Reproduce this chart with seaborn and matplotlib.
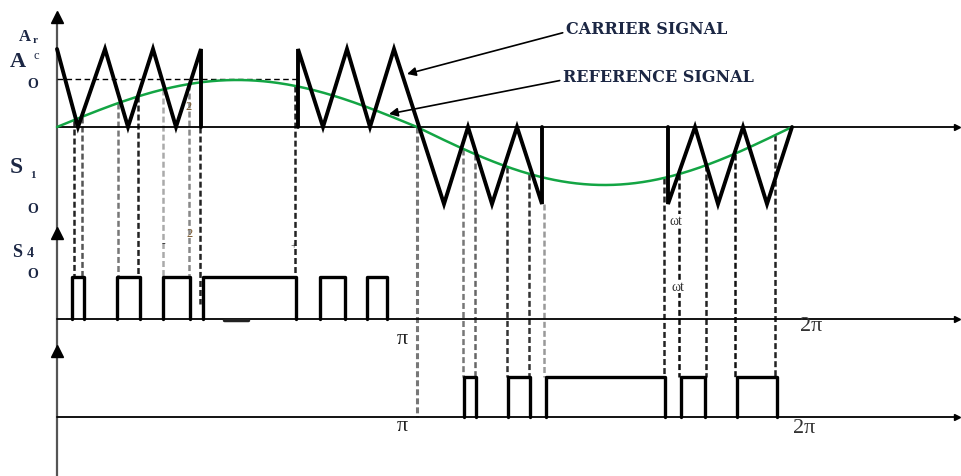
import numpy as np
import pandas as pd
import matplotlib
matplotlib.use("Agg")
import matplotlib.pyplot as plt
import seaborn as sns

# ---------------- data (diagram units: horizontal = time axis, vertical = level) ----------------
t_start, t_pi, t_end = 57, 417, 792          # start, zero crossing (pi), end (2pi) of reference
ref_amp_pos, ref_amp_neg = 47, 58             # reference amplitude in positive / negative half
level_zero = 128                              # top panel time axis
level_ac = 50                                 # carrier peak (Ac)
level_neg = 205                               # carrier negative peak
level_ref_peak = 80                           # dashed "0" reference line
s4_axis, s4_high = 320, 278
s1_axis, s1_high = 418, 378

carrier1_t = [57, 78, 105, 128, 153, 176, 201, 201]
carrier1_v = [50, 128, 50, 128, 50, 128, 50, 128]
carrier2_t = [298, 298, 323, 347, 370, 394, 444, 468, 492, 517, 542, 542]
carrier2_v = [128, 50, 128, 50, 128, 50, 205, 128, 205, 128, 205, 128]
carrier3_t = [668, 668, 695, 718, 743, 767, 792]
carrier3_v = [128, 205, 128, 205, 128, 205, 128]

pulses_s4 = [(72, 84), (117, 140), (163, 190), (203, 296), (320, 345), (367, 387)]
pulses_s1 = [(464, 476), (508, 530), (546, 665), (681, 705), (737, 777)]

dash_first_t = [74, 82, 118, 138, 163, 189, 200, 295]
dash_first_c = ['#222222', '#555555', '#777777', '#222222', '#aaaaaa', '#888888', '#222222', '#222222']
dash_second_t = [463, 475, 507, 529, 544, 664, 679, 706, 735, 775]
dash_second_c = ['#777777', '#666666', '#333333', '#333333', '#999999',
                 '#222222', '#111111', '#222222', '#111111', '#222222']

# ---------------- figure ----------------
sns.set_theme(style="white")
plt.rcParams['font.family'] = ['Liberation Serif', 'DejaVu Serif']
plt.rcParams['lines.scale_dashes'] = False

fig = plt.figure(figsize=(9.61, 4.77), dpi=100)
ax = fig.add_axes([0, 0, 1, 1])

txt_col = '#1c2744'
dash = (4.3, 2.2)


def ref(t):
    t = np.asarray(t, dtype=float)
    pos = level_zero - ref_amp_pos * np.sin(np.pi * (t - t_start) / (t_pi - t_start))
    neg = level_zero + ref_amp_neg * np.sin(np.pi * (t - t_pi) / (t_end - t_pi))
    return np.where(t < t_pi, pos, neg)


# reference sine (seaborn)
t_ref = np.linspace(t_start, t_end, 400)
df_ref = pd.DataFrame({'t': t_ref, 'v': ref(t_ref)})
sns.lineplot(data=df_ref, x='t', y='v', ax=ax, color='#13a544', lw=1.8, zorder=3,
             sort=False, estimator=None)
ax.set_xlim(0, 961)
ax.set_ylim(477, 0)
ax.axis('off')

# axes
ax.plot([57, 57], [16, 477], color='#555555', lw=1.6, zorder=2)
for yy in (18, 234, 352):
    ax.plot([57], [yy], marker='^', color='black', markersize=9, zorder=5)
for yy in (level_zero, s4_axis, s1_axis):
    ax.plot([57, 955], [yy, yy], color='black', lw=1.3, zorder=2)
    ax.plot([957], [yy], marker='>', color='black', markersize=5, zorder=5)

# dashed reference peak line
ax.plot([57, 300], [level_ref_peak, level_ref_peak], color='black', lw=1.0, dashes=(4, 2.5), zorder=2)

# dashed projection lines
for t, c in zip(dash_first_t, dash_first_c):
    y0 = float(ref(t)) if t != 200 else level_zero
    y1 = s4_high if t != 200 else 305
    ax.plot([t, t], [y0, y1], color=c, lw=1.8, dashes=dash, zorder=1)
ax.plot([t_pi, t_pi], [level_zero, s1_axis], color='#777777', lw=2.2, dashes=dash, zorder=1)
for t, c in zip(dash_second_t, dash_second_c):
    y0 = float(ref(t)) if t != 544 else level_neg
    ax.plot([t, t], [y0, s1_high], color=c, lw=1.8, dashes=dash, zorder=1)

# carrier
for tt, vv in ((carrier1_t, carrier1_v), (carrier2_t, carrier2_v), (carrier3_t, carrier3_v)):
    ax.plot(tt, vv, color='black', lw=2.8, solid_joinstyle='miter', zorder=4)

# pulses
for a, b in pulses_s4:
    ax.plot([a, a, b, b], [s4_axis, s4_high, s4_high, s4_axis], color='black', lw=2.4, zorder=4)
for a, b in pulses_s1:
    ax.plot([a, a, b, b], [s1_axis, s1_high, s1_high, s1_axis], color='black', lw=2.4, zorder=4)
ax.plot([224, 248], [321, 321], color='#222222', lw=2.5, zorder=4)

# labels at left
ax.text(19, 41, "A", fontsize=12, color=txt_col, fontweight='bold', va='baseline')
ax.text(33, 43, "r", fontsize=8, color=txt_col, fontweight='bold', va='baseline')
ax.text(10, 67, "A", fontsize=16, color=txt_col, fontweight='bold', va='baseline')
ax.text(33, 59, "c", fontsize=9, color=txt_col, va='baseline')
for yy in (88, 213, 278):
    ax.text(27, yy, "O", fontsize=10, color=txt_col, fontweight='bold', va='baseline')
ax.text(10, 173, "S", fontsize=17, color=txt_col, fontweight='bold', va='baseline')
ax.text(30, 178, "1", fontsize=8, color=txt_col, fontweight='bold', va='baseline')
ax.text(12, 257, "S", fontsize=13, color=txt_col, fontweight='bold', va='baseline')
ax.text(27, 257, "4", fontsize=10, color=txt_col, fontweight='bold', va='baseline')

# annotations
ax.annotate("CARRIER SIGNAL", xy=(407, 75), xytext=(566, 34), fontsize=11.5, fontweight='bold',
            family=['DejaVu Serif'], color=txt_col, va='baseline', ha='left',
            arrowprops=dict(arrowstyle='-|>', color='black', lw=1.2, mutation_scale=13,
                            shrinkA=0, shrinkB=0, relpos=(0, 0.3)))
ax.annotate("REFERENCE SIGNAL", xy=(389, 115), xytext=(563, 82), fontsize=11.5, fontweight='bold',
            family=['DejaVu Serif'], color=txt_col, va='baseline', ha='left',
            arrowprops=dict(arrowstyle='-|>', color='black', lw=1.2, mutation_scale=13,
                            shrinkA=0, shrinkB=0, relpos=(0, 0.3)))

ax.text(397, 344, "π", fontsize=16, color='#222222', va='baseline')
ax.text(397, 431, "π", fontsize=16, color='#222222', va='baseline')
ax.text(800, 331, "2π", fontsize=16, color='#333333', va='baseline')
ax.text(793, 433, "2π", fontsize=16, color='#333333', va='baseline')
for xx, yy in ((669, 225), (671, 291)):
    ax.text(xx, yy, "ωt", fontsize=10, color='#333333', va='baseline', zorder=6,
            bbox=dict(facecolor='white', edgecolor='none', pad=0.3))
ax.text(185, 110, "2", fontsize=9, color='#7a5a30', va='baseline')
ax.text(186, 237, "2", fontsize=9, color='#7a5a30', va='baseline')
ax.text(162, 246, "-", fontsize=8, color='#222222', va='baseline')
ax.text(290, 249, "+", fontsize=8, color='#222222', va='baseline')

fig.savefig("out.png", dpi=100)
